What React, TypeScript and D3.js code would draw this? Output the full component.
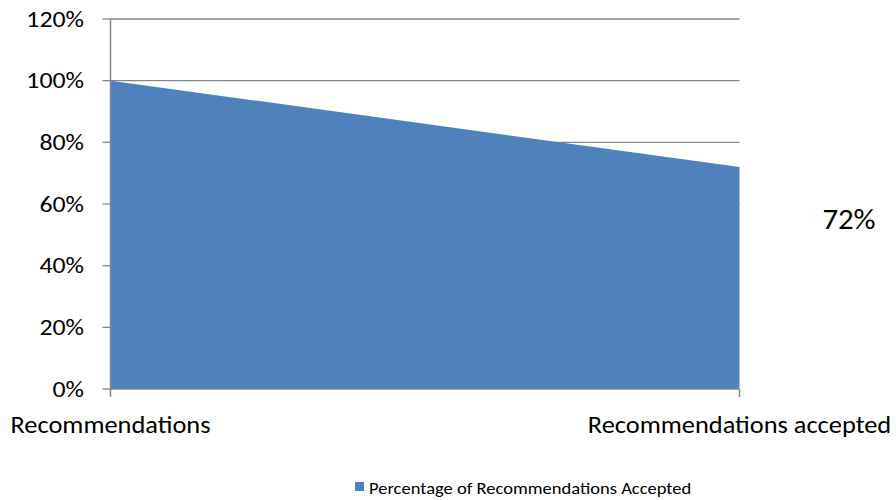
import * as React from 'react';
import * as d3 from 'd3';

const categories = ['Recommendations', 'Recommendations accepted'];
const values = [100, 72];
const yTicks = [0, 20, 40, 60, 80, 100, 120];
const seriesName = 'Percentage of Recommendations Accepted';
const dataLabel = '72%';

const FONT = 'Calibri, Carlito, Lato, sans-serif';
const FILL = '#4F81BD';
const GRID = '#868686';

const x = d3.scalePoint<string>().domain(categories).range([110.5, 739.5]);
const y = d3.scaleLinear().domain([0, 120]).range([389, 19]);

const area = d3
  .area<number>()
  .x((_, i) => x(categories[i]) as number)
  .y0(y(0))
  .y1((d) => y(d));

interface LabelProps {
  x: number;
  y: number;
  size: number;
  sx: number;
  anchor?: 'start' | 'middle' | 'end';
  dy?: string;
  children: React.ReactNode;
}

// reference text is a bit wider than Lato, so stretch it horizontally
const Label: React.FC<LabelProps> = ({ x, y, size, sx, anchor = 'start', dy, children }) => (
  <text
    transform={`translate(${x},${y}) scale(${sx},1)`}
    textAnchor={anchor}
    dy={dy}
    fontSize={size}
    fill="#000"
  >
    {children}
  </text>
);

const App: React.FC = () => {
  const path = area(values) || '';
  const left = x(categories[0]) as number;
  const right = x(categories[categories.length - 1]) as number;

  return (
    <svg
      width={896}
      height={500}
      style={{ position: 'absolute', left: 0, top: 0, background: '#fff' }}
      fontFamily={FONT}
    >
      {/* grid lines + y ticks */}
      {yTicks.map((t) => (
        <g key={t}>
          {t > 0 && (
            <line x1={left} x2={right} y1={y(t)} y2={y(t)} stroke={GRID} strokeWidth={1.3} />
          )}
          <line x1={left - 8} x2={left} y1={y(t)} y2={y(t)} stroke={GRID} strokeWidth={1.3} />
          <Label x={84} y={y(t)} dy="0.36em" anchor="end" size={21.5} sx={1.2}>
            {t}%
          </Label>
        </g>
      ))}

      {/* area */}
      <path d={path} fill={FILL} />

      {/* axes */}
      <line x1={left} x2={left} y1={y(120)} y2={y(0)} stroke={GRID} strokeWidth={1.5} />
      <line x1={left} x2={right} y1={y(0)} y2={y(0)} stroke={GRID} strokeWidth={1.5} />
      {categories.map((c) => (
        <line
          key={c}
          x1={x(c) as number}
          x2={x(c) as number}
          y1={y(0)}
          y2={y(0) + 8}
          stroke={GRID}
          strokeWidth={1.5}
        />
      ))}

      {/* category labels */}
      {categories.map((c) => (
        <Label key={c} x={x(c) as number} y={432.5} anchor="middle" size={24} sx={1.1}>
          {c}
        </Label>
      ))}

      {/* data label */}
      <Label x={849} y={229} anchor="middle" size={28} sx={1.1}>
        {dataLabel}
      </Label>

      {/* legend */}
      <rect x={355} y={482} width={9} height={9} fill={FILL} />
      <Label x={369} y={493.5} size={17} sx={1.09}>
        {seriesName}
      </Label>
    </svg>
  );
};

export default App;
